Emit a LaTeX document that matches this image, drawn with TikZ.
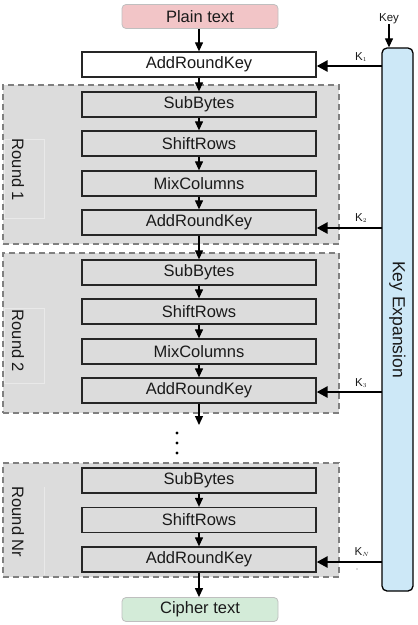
\documentclass[tikz,border=0pt]{standalone}
\usepackage{fontspec}
\setmainfont{Liberation Sans}
\usetikzlibrary{arrows.meta}
\definecolor{grpgray}{HTML}{DCDCDC}
\definecolor{dashgray}{HTML}{808080}
\definecolor{pinkfill}{HTML}{F2C5C7}
\definecolor{greenfill}{HTML}{D3EBD8}
\definecolor{keyblue}{HTML}{CDE8F7}
\definecolor{txt}{HTML}{1A1A1A}
\definecolor{faint}{HTML}{E9E9E9}
\tikzset{
  x=1pt, y=-1pt,
  every node/.style={text=txt},
  stepbox/.style={rectangle, draw=black!85, line width=1.3pt, fill=grpgray,
    minimum width=234pt, minimum height=25pt, inner sep=0pt,
    font=\fontsize{16.5}{19}\selectfont},
  termbox/.style={rectangle, rounded corners=4pt, draw=black!25, line width=0.8pt,
    minimum width=156pt, minimum height=24pt, inner sep=0pt,
    font=\fontsize{16.5}{19}\selectfont},
  grp/.style={rectangle, draw=dashgray, line width=1.3pt, dash pattern=on 6pt off 4pt,
    fill=grpgray, inner sep=0pt},
  rbox/.style={rectangle, draw=faint, line width=0.6pt, inner sep=0pt, minimum width=40pt},
  rlabel/.style={inner sep=0pt, rotate=-90, font=\fontsize{16.5}{19}\selectfont},
  arr/.style={-{Triangle[length=9pt,width=8pt]}, line width=1.2pt},
  karr/.style={-{Triangle[length=11pt,width=11pt]}, line width=2.6pt},
  klab/.style={inner sep=0pt, font=\fontsize{11.5}{13}\selectfont},
}
\begin{document}
\begin{tikzpicture}
\useasboundingbox (0,0) rectangle (418,625);
% groups
\node[grp, minimum width=336pt, minimum height=159pt] (g1) at (171,164.5) {};
\node[grp, minimum width=336pt, minimum height=160pt] (g2) at (171,333) {};
\node[grp, minimum width=336pt, minimum height=114pt] (g3) at (171,520) {};
% round labels
\node[rbox, minimum height=79pt] (rb1) at (24,178.5) {};
\node[rbox, minimum height=75pt] (rb2) at (24,345.5) {};
\draw[faint, line width=0.6pt] (44,487) -- (44,575);
\node[rlabel] (r1) at (18,170) {Round 1};
\node[rlabel] (r2) at (18,341) {Round 2};
\node[rlabel] (r3) at (18,522) {Round Nr};
% terminals
\node[termbox, fill=pinkfill] (pt) at (200,16.5) {Plain text};
\node[termbox, fill=greenfill] (ct) at (200,609.5) {Cipher text};
% boxes
\node[stepbox, fill=white] (ark0) at (199,64.5) {AddRoundKey};
\node[stepbox] (sb1) at (199,104.5) {SubBytes};
\node[stepbox] (sr1) at (199,143.5) {ShiftRows};
\node[stepbox] (mc1) at (199,183.5) {MixColumns};
\node[stepbox] (ark1) at (199,222.5) {AddRoundKey};
\node[stepbox] (sb2) at (199,272.5) {SubBytes};
\node[stepbox] (sr2) at (199,311.5) {ShiftRows};
\node[stepbox] (mc2) at (199,351.5) {MixColumns};
\node[stepbox] (ark2) at (199,390.5) {AddRoundKey};
\node[stepbox] (sb3) at (199,480.5) {SubBytes};
\node[stepbox] (sr3) at (199,520) {ShiftRows};
\node[stepbox] (ark3) at (199,559.5) {AddRoundKey};
% dots
\node[circle, fill=black, inner sep=0pt, minimum size=3.2pt] (d1) at (177,433) {};
\node[circle, fill=black, inner sep=0pt, minimum size=3.2pt] (d2) at (177,443) {};
\node[circle, fill=black, inner sep=0pt, minimum size=3.2pt] (d3) at (177,453) {};
\coordinate (dtop) at (199,425);
% key expansion
\node[rectangle, rounded corners=5pt, draw=black, line width=1.3pt, fill=keyblue,
  minimum width=31pt, minimum height=543pt, inner sep=0pt] (kx) at (397.5,319.5) {};
\node[rotate=-90, font=\fontsize{17.5}{20}\selectfont] (kxl) at (kx.center) {Key Expansion};
\node[klab] (key) at (389,19) {Key};
\draw[arr] (key.south) -- (key.south |- kx.north);
% vertical flow arrows
\draw[arr] (pt.south -| ark0.north) -- (ark0.north);
\draw[arr] (ark0) -- (sb1);
\draw[arr] (sb1) -- (sr1);
\draw[arr] (sr1) -- (mc1);
\draw[arr] (mc1) -- (ark1);
\draw[arr] (ark1) -- (sb2);
\draw[arr] (sb2) -- (sr2);
\draw[arr] (sr2) -- (mc2);
\draw[arr] (mc2) -- (ark2);
\draw[arr] (ark2) -- (dtop);
\draw[arr] (sb3) -- (sr3);
\draw[arr] (sr3) -- (ark3);
\draw[arr] (ark3.south) -- (ark3.south |- ct.north);
% key arrows
\coordinate (k1) at (382,66);
\coordinate (k2) at (382,228);
\coordinate (k3) at (382,392);
\coordinate (k4) at (382,562);
\draw[karr] (k1) -- (k1 -| ark0.east);
\draw[karr] (k2) -- (k2 -| ark1.east);
\draw[karr] (k3) -- (k3 -| ark2.east);
\draw[karr] (k4) -- (k4 -| ark3.east);
\node[klab] (kl1) at (361,57) {K$_{\scriptscriptstyle 1}$};
\node[klab] (kl2) at (361,218) {K$_{\scriptscriptstyle 2}$};
\node[klab] (kl3) at (361,383) {K$_{\scriptscriptstyle 3}$};
\node[klab] (kl4) at (362,552) {K$_{\scriptscriptstyle N}$};
\node[circle, fill=black!60, inner sep=0pt, minimum size=1.3pt] (kdot) at (357,569) {};
\end{tikzpicture}
\end{document}
